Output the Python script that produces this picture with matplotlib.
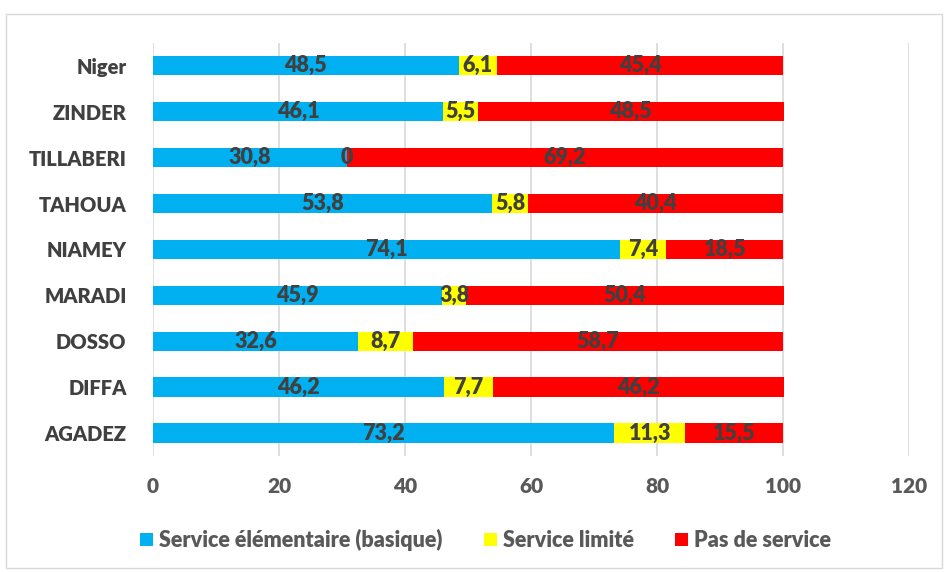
import matplotlib.pyplot as plt
from matplotlib.patches import Rectangle

regions = ['AGADEZ', 'DIFFA', 'DOSSO', 'MARADI', 'NIAMEY', 'TAHOUA', 'TILLABERI', 'ZINDER', 'Niger']
basique = [73.2, 46.2, 32.6, 45.9, 74.1, 53.8, 30.8, 46.1, 48.5]
limite = [11.3, 7.7, 8.7, 3.8, 7.4, 5.8, 0, 5.5, 6.1]
aucun = [15.5, 46.2, 58.7, 50.4, 18.5, 40.4, 69.2, 48.5, 45.4]
series_names = ['Service élémentaire (basique)', 'Service limité', 'Pas de service']
colors = ['#00B0F0', '#FFFF00', '#FF0000']

plt.rcParams['font.family'] = ['Lato', 'DejaVu Sans']
plt.rcParams['font.weight'] = 'bold'

fig = plt.figure(figsize=(9.44, 5.72), dpi=100)
ax = fig.add_axes([0.162, 0.203, 0.801, 0.722])

# cadre du graphique
fig.patches.append(Rectangle((6 / 944, 4 / 572), 936 / 944, 554 / 572, transform=fig.transFigure,
                             fill=False, edgecolor='#D9D9D9', linewidth=1.0))

y = range(len(regions))
left = [0] * len(regions)
for vals, name, col in zip([basique, limite, aucun], series_names, colors):
    bars = ax.barh(y, vals, left=left, height=0.42, color=col, label=name, zorder=2)
    for b, v, l in zip(bars, vals, left):
        ax.text(l + v / 2, b.get_y() + b.get_height() / 2, f'{v:g}'.replace('.', ','),
                ha='center', va='center', fontsize=15.5, color='#404040', fontweight='heavy', zorder=3)
    left = [a + b for a, b in zip(left, vals)]

ax.set_xlim(0, 120)
ax.set_ylim(-0.5, len(regions) - 0.5)
ax.set_xticks(range(0, 121, 20))
ax.set_yticks(list(y))
ax.set_yticklabels(regions, fontsize=14.5, color='#404040', fontweight='heavy')
ax.tick_params(axis='x', labelsize=15, colors='#595959', length=0, pad=15)
ax.tick_params(axis='y', length=0, pad=19)
for t in ax.get_xticklabels():
    t.set_fontweight('heavy')
ax.grid(axis='x', color='#D9D9D9', linewidth=1.2, zorder=0)
for s in ax.spines.values():
    s.set_visible(False)

leg = ax.legend(loc='center', bbox_to_anchor=(0.44, -0.204), ncol=3, frameon=False, fontsize=15.5,
                handlelength=0.6, handleheight=0.6, handletextpad=0.3, columnspacing=1.9,
                labelcolor='#595959')
for t in leg.get_texts():
    t.set_fontweight('heavy')

fig.savefig('out.png', dpi=100)
